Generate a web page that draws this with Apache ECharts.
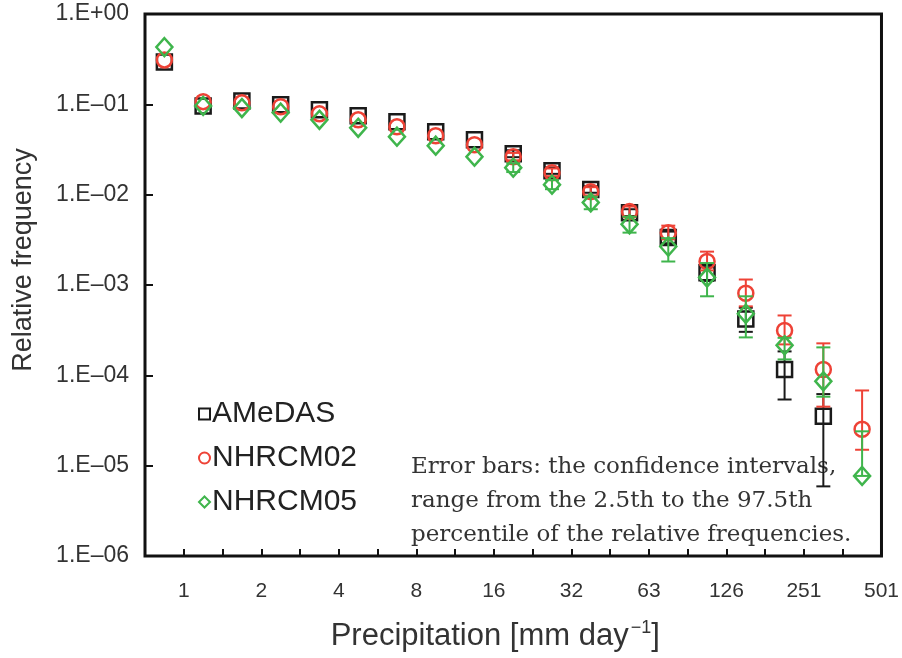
<!DOCTYPE html>
<html><head><meta charset="utf-8">
<script src="https://cdn.jsdelivr.net/npm/echarts@6/dist/echarts.min.js"></script>
<style>html,body{margin:0;padding:0;background:#fff}#c{width:902px;height:658px}</style>
</head><body><div id="c"></div>
<script>
// bin centres, in log10(precipitation [mm/day])
const binPos = [-0.075, 0.075, 0.225, 0.375, 0.525, 0.675, 0.825, 0.975, 1.125, 1.275, 1.425, 1.575, 1.725, 1.875, 2.025, 2.175, 2.325, 2.475, 2.625];
const xTickLabels = ['1', '2', '4', '8', '16', '32', '63', '126', '251', '501'];
const yTickLabels = ['1.E\u201306', '1.E\u201305', '1.E\u201304', '1.E\u201303', '1.E\u201302', '1.E\u201301', '1.E+00'];
const seriesNames = ['AMeDAS', 'NHRCM02', 'NHRCM05'];

const amedas   = [0.295, 0.096, 0.109, 0.099, 0.087, 0.0746, 0.064, 0.0497, 0.0405, 0.0284, 0.0184, 0.0114, 0.0063, 0.00335, 0.00137, 0.00042, 0.000116, 0.0000352, null];
const amedasLo = [null, null, null, null, null, null, null, null, null, 0.026, 0.017, 0.0105, 0.0058, 0.0029, 0.00111, 0.000303, 0.000054, 0.0000059, null];
const amedasHi = [null, null, null, null, null, null, null, null, null, 0.031, 0.020, 0.0124, 0.0069, 0.0039, 0.00157, 0.00056, 0.000184, 0.000062, null];

const nhrcm02   = [0.31, 0.107, 0.104, 0.094, 0.0785, 0.0674, 0.0564, 0.0449, 0.0357, 0.0263, 0.0175, 0.0108, 0.0065, 0.0038, 0.00182, 0.00081, 0.000314, 0.000116, 0.0000253];
const nhrcm02Lo = [null, null, null, null, null, null, null, null, null, 0.024, 0.016, 0.0098, 0.0057, 0.0032, 0.00145, 0.00058, 0.00022, 0.000045, 0.000015];
const nhrcm02Hi = [null, null, null, null, null, null, null, null, null, 0.029, 0.0195, 0.0121, 0.0074, 0.00454, 0.00234, 0.00115, 0.00046, 0.000226, 0.000068];

const nhrcm05   = [0.43, 0.096, 0.091, 0.081, 0.0674, 0.055, 0.0438, 0.0348, 0.0263, 0.0199, 0.0129, 0.0082, 0.0047, 0.00266, 0.00121, 0.00048, 0.000215, 0.000086, 0.0000077];
const nhrcm05Lo = [null, null, null, null, null, null, null, null, null, 0.0178, 0.0115, 0.0069, 0.0038, 0.00182, 0.00075, 0.000263, 0.00015, 0.000058, 0.0000077];
const nhrcm05Hi = [null, null, null, null, null, null, null, null, null, 0.0222, 0.0145, 0.0095, 0.0057, 0.0033, 0.00175, 0.00075, 0.00026, 0.000204, 0.000024];

const colors = ['#1a1a1a', '#ee4236', '#3fb54c'];
const symbols = ['rect', 'circle', 'diamond'];
const symbolSizes = [15, 15, [16, 18]];
const values = [amedas, nhrcm02, nhrcm05];
const los = [amedasLo, nhrcm02Lo, nhrcm05Lo];
const his = [amedasHi, nhrcm02Hi, nhrcm05Hi];

function errRender(color) {
  return function (params, api) {
    const x = api.value(0), lo = api.value(1), hi = api.value(2);
    const p1 = api.coord([x, hi]), p2 = api.coord([x, lo]);
    const hw = 7;
    const style = { stroke: color, lineWidth: 2 };
    return { type: 'group', children: [
      { type: 'line', shape: { x1: p1[0], y1: p1[1], x2: p2[0], y2: p2[1] }, style: style },
      { type: 'line', shape: { x1: p1[0] - hw, y1: p1[1], x2: p1[0] + hw, y2: p1[1] }, style: style },
      { type: 'line', shape: { x1: p2[0] - hw, y1: p2[1], x2: p2[0] + hw, y2: p2[1] }, style: style }
    ]};
  };
}

const series = [];
for (let s = 0; s < 3; s++) {
  const errData = [];
  for (let i = 0; i < binPos.length; i++) {
    if (los[s][i] != null && his[s][i] != null) errData.push([binPos[i], los[s][i], his[s][i]]);
  }
  series.push({
    name: seriesNames[s] + ' CI', type: 'custom', renderItem: errRender(colors[s]),
    data: errData, encode: { x: 0, y: [1, 2] }, silent: true, z: 2 + s * 2
  });
  const pts = [];
  for (let i = 0; i < binPos.length; i++) {
    if (values[s][i] != null) pts.push([binPos[i], values[s][i]]);
  }
  series.push({
    name: seriesNames[s], type: 'scatter', symbol: symbols[s], symbolSize: symbolSizes[s],
    data: pts, z: 3 + s * 2,
    itemStyle: { color: 'rgba(255,255,255,0)', borderColor: colors[s], borderWidth: 2.5, opacity: 1 }
  });
}

const chart = echarts.init(document.getElementById('c'));
chart.setOption({
  animation: false,
  backgroundColor: '#fff',
  grid: { left: 145, right: 19, top: 14, bottom: 101, show: true, borderColor: '#111', borderWidth: 3 },
  xAxis: {
    type: 'value', min: -0.15, max: 2.7, interval: 0.15,
    axisLine: { show: false, onZero: false },
    axisTick: { inside: true, length: 7, lineStyle: { color: '#111', width: 2 } },
    splitLine: { show: false },
    axisLabel: {
      margin: 25, fontSize: 21, color: '#333', fontFamily: 'Liberation Sans',
      formatter: function (v) { const k = Math.round(v / 0.15); if (k < 0 || k % 2) return ''; return xTickLabels[k / 2] || ''; }
    },
    name: 'Precipitation [mm day{sup|\u22121}]', nameLocation: 'middle', nameGap: 63,
    nameTextStyle: { fontSize: 31, color: '#333', fontFamily: 'Liberation Sans', lineHeight: 34, padding: [0, 36, 0, 0],
      rich: { sup: { fontSize: 18, color: '#333', fontFamily: 'Liberation Sans', verticalAlign: 'top', lineHeight: 19, padding: [0, 0, 13, 2] } } }
  },
  yAxis: {
    type: 'log', logBase: 10, min: 1e-6, max: 1,
    axisLine: { show: false, onZero: false },
    axisTick: { inside: true, length: 8, lineStyle: { color: '#111', width: 2 } },
    splitLine: { show: false }, minorTick: { show: false },
    axisLabel: {
      margin: 16, fontSize: 23, color: '#333', fontFamily: 'Liberation Sans',
      formatter: function (v) { return yTickLabels[Math.round(Math.log10(v)) + 6] || ''; }
    },
    name: 'Relative frequency', nameLocation: 'middle', nameGap: 108,
    nameTextStyle: { fontSize: 27, color: '#333', fontFamily: 'Liberation Sans', padding: [0, 0, 0, 50] }
  },
  legend: {
    data: [{ name: 'AMeDAS', icon: 'rect' }, { name: 'NHRCM02', icon: 'circle' }, { name: 'NHRCM05', icon: 'diamond' }],
    orient: 'vertical', left: 193, top: 394, itemGap: 14, itemWidth: 11, itemHeight: 11,
    selectedMode: false,
    textStyle: { fontSize: 30, color: '#222', fontFamily: 'Liberation Sans', padding: [0, 0, 0, -3] }
  },
  graphic: [{
    type: 'text', left: 411, top: 450, z: 1,
    style: { text: 'Error bars: the confidence intervals,\nrange from the 2.5th to the 97.5th\npercentile of the relative frequencies.',
      font: '23px "DejaVu Serif"', fill: '#333', lineHeight: 34 }
  }],
  series: series
});
</script></body></html>
